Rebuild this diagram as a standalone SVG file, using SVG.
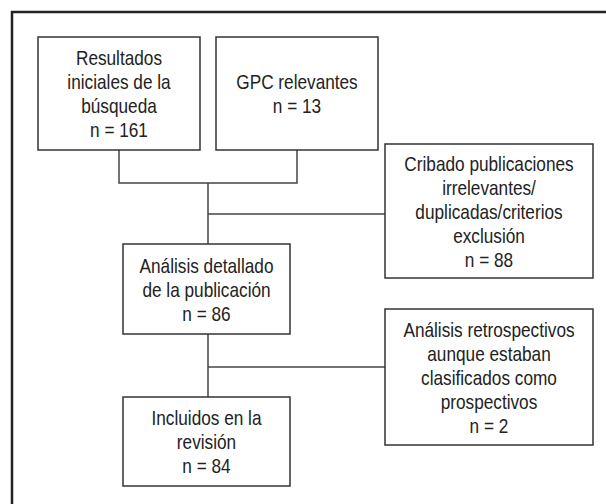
<svg xmlns="http://www.w3.org/2000/svg" width="606" height="504" viewBox="0 0 606 504">
<style>
.box{fill:#fff;stroke:#333;stroke-width:1.5}
.conn{fill:none;stroke:#444;stroke-width:1.5}
.frame{fill:none;stroke:#222;stroke-width:2.5}
text{font-family:"Liberation Sans",Arial,sans-serif;font-size:21px;fill:#222;text-anchor:middle}
</style>
<rect x="0" y="0" width="606" height="504" fill="#fff"/>
<path class="frame" d="M12,504 V12 H606"/>
<g id="connectors">
<path class="conn" d="M119,150 V183 H297 V150"/>
<path class="conn" d="M208,183 V244"/>
<path class="conn" d="M208,214 H385"/>
<path class="conn" d="M208,334 V397"/>
<path class="conn" d="M208,367 H385"/>
</g>
<g id="n1">
<rect class="box" x="38" y="37" width="162" height="113"/>
<text transform="translate(119,65) scale(0.82,1)">Resultados</text>
<text transform="translate(119,89) scale(0.82,1)">iniciales de la</text>
<text transform="translate(119,113) scale(0.82,1)">búsqueda</text>
<text transform="translate(119,137) scale(0.82,1)">n = 161</text>
</g>
<g id="n2">
<rect class="box" x="216" y="37" width="162" height="113"/>
<text transform="translate(297,89) scale(0.82,1)">GPC relevantes</text>
<text transform="translate(297,113) scale(0.82,1)">n = 13</text>
</g>
<g id="n3">
<rect class="box" x="385" y="144" width="208" height="134"/>
<text transform="translate(489,170.5) scale(0.82,1)">Cribado publicaciones</text>
<text transform="translate(489,194.5) scale(0.82,1)">irrelevantes/</text>
<text transform="translate(489,218.5) scale(0.82,1)">duplicadas/criterios</text>
<text transform="translate(489,242.5) scale(0.82,1)">exclusión</text>
<text transform="translate(489,266.5) scale(0.82,1)">n = 88</text>
</g>
<g id="n4">
<rect class="box" x="123" y="244" width="167" height="90"/>
<text transform="translate(206.5,272.5) scale(0.82,1)">Análisis detallado</text>
<text transform="translate(206.5,296.5) scale(0.82,1)">de la publicación</text>
<text transform="translate(206.5,320.5) scale(0.82,1)">n = 86</text>
</g>
<g id="n5">
<rect class="box" x="385" y="309" width="208" height="136"/>
<text transform="translate(489,336.5) scale(0.82,1)">Análisis retrospectivos</text>
<text transform="translate(489,360.5) scale(0.82,1)">aunque estaban</text>
<text transform="translate(489,384.5) scale(0.82,1)">clasificados como</text>
<text transform="translate(489,408.5) scale(0.82,1)">prospectivos</text>
<text transform="translate(489,432.5) scale(0.82,1)">n = 2</text>
</g>
<g id="n6">
<rect class="box" x="123" y="397" width="167" height="89"/>
<text transform="translate(206.5,425) scale(0.82,1)">Incluidos en la</text>
<text transform="translate(206.5,449) scale(0.82,1)">revisión</text>
<text transform="translate(206.5,473) scale(0.82,1)">n = 84</text>
</g>
</svg>
